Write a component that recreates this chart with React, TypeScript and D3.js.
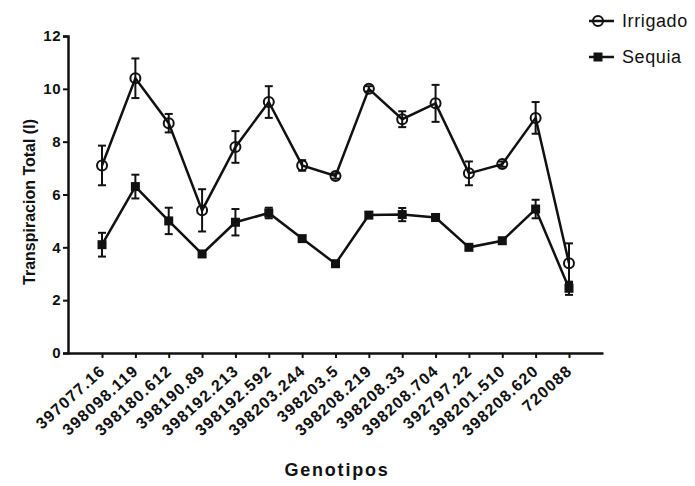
import React, { useEffect, useRef } from 'react';
import * as d3 from 'd3';

const genotipos = [
  '397077.16', '398098.119', '398180.612', '398190.89', '398192.213',
  '398192.592', '398203.244', '398203.5', '398208.219', '398208.33',
  '398208.704', '392797.22', '398201.510', '398208.620', '720088',
];

const irrigado = [7.1, 10.4, 8.7, 5.4, 7.8, 9.5, 7.1, 6.7, 10.0, 8.85, 9.45, 6.8, 7.15, 8.9, 3.4];
const irrigadoErr = [0.75, 0.75, 0.35, 0.8, 0.6, 0.6, 0.2, 0.1, 0.1, 0.3, 0.7, 0.45, 0.1, 0.6, 0.75];

const sequia = [4.1, 6.3, 5.0, 3.75, 4.95, 5.3, 4.33, 3.38, 5.22, 5.24, 5.13, 4.0, 4.25, 5.45, 2.45];
const sequiaErr = [0.45, 0.45, 0.5, 0.1, 0.5, 0.2, 0.1, 0.1, 0.1, 0.25, 0.1, 0.1, 0.1, 0.35, 0.25];

const yTicks = [0, 2, 4, 6, 8, 10, 12];

const App: React.FC = () => {
  const svgRef = useRef<SVGSVGElement>(null);

  useEffect(() => {
    if (!svgRef.current) return;
    const width = 695;
    const height = 486;
    const left = 68;
    const right = 603;
    const top = 36;
    const bottom = 353;
    const ink = '#111';

    const svg = d3.select(svgRef.current);
    svg.selectAll('*').remove();
    svg.attr('width', width).attr('height', height)
      .style('font-family', 'Arial, "Liberation Sans", sans-serif');

    svg.append('rect').attr('width', width).attr('height', height).attr('fill', '#fff');

    const x = d3.scalePoint<string>().domain(genotipos).range([left, right]).padding(1.02);
    const y = d3.scaleLinear().domain([0, 12]).range([bottom, top]);

    // axes
    const yAxis = svg.append('g').attr('transform', `translate(${left},0)`)
      .call(d3.axisLeft(y).tickValues(yTicks).tickSize(5).tickPadding(2));
    yAxis.select('.domain').attr('stroke', ink).attr('stroke-width', 2.5);
    yAxis.selectAll('.tick line').attr('stroke', ink).attr('stroke-width', 2);
    yAxis.selectAll('.tick text')
      .attr('fill', ink).style('font-size', '15px').style('font-weight', 'bold')
      .style('letter-spacing', '0.5px');

    const xAxis = svg.append('g').attr('transform', `translate(0,${bottom})`)
      .call(d3.axisBottom(x).tickSize(5).tickSizeOuter(0));
    xAxis.select('.domain').attr('stroke', ink).attr('stroke-width', 2.5);
    xAxis.selectAll('.tick line').attr('stroke', ink).attr('stroke-width', 2);
    xAxis.selectAll('.tick text')
      .attr('fill', ink)
      .style('font-size', '16px').style('font-weight', 'bold')
      .style('letter-spacing', '1.2px')
      .attr('text-anchor', 'end')
      .attr('y', 0).attr('dy', '0.35em')
      .attr('transform', 'translate(0,15) rotate(-42)');

    // titles
    svg.append('text')
      .attr('transform', `translate(35,202) rotate(-90)`)
      .attr('text-anchor', 'middle')
      .style('font-size', '16px').style('font-weight', 'bold').attr('fill', ink)
      .text('Transpiracion Total (l)');
    svg.append('text')
      .attr('x', 337).attr('y', 476)
      .attr('text-anchor', 'middle')
      .style('font-size', '18px').style('font-weight', 'bold').attr('fill', ink)
      .style('letter-spacing', '1.8px')
      .text('Genotipos');

    const series = [
      { name: 'Irrigado', values: irrigado, err: irrigadoErr, shape: 'circle' },
      { name: 'Sequia', values: sequia, err: sequiaErr, shape: 'square' },
    ];

    const line = d3.line<number>()
      .x((_, i) => x(genotipos[i]) as number)
      .y(d => y(d));

    series.forEach(s => {
      const g = svg.append('g');
      g.append('path')
        .attr('d', line(s.values))
        .attr('fill', 'none').attr('stroke', ink).attr('stroke-width', 2.5);

      const eb = g.append('g').selectAll('g').data(s.values).join('g');
      eb.append('line')
        .attr('x1', (_, i) => x(genotipos[i]) as number)
        .attr('x2', (_, i) => x(genotipos[i]) as number)
        .attr('y1', (d, i) => y(d - s.err[i]))
        .attr('y2', (d, i) => y(d + s.err[i]))
        .attr('stroke', ink).attr('stroke-width', 2);
      [1, -1].forEach(sign => {
        eb.append('line')
          .attr('x1', (_, i) => (x(genotipos[i]) as number) - 4)
          .attr('x2', (_, i) => (x(genotipos[i]) as number) + 4)
          .attr('y1', (d, i) => y(d + sign * s.err[i]))
          .attr('y2', (d, i) => y(d + sign * s.err[i]))
          .attr('stroke', ink).attr('stroke-width', 2);
      });

      if (s.shape === 'circle') {
        g.append('g').selectAll('circle').data(s.values).join('circle')
          .attr('cx', (_, i) => x(genotipos[i]) as number)
          .attr('cy', d => y(d))
          .attr('r', 5)
          .attr('fill', 'none').attr('stroke', ink).attr('stroke-width', 2);
      } else {
        g.append('g').selectAll('rect').data(s.values).join('rect')
          .attr('x', (_, i) => (x(genotipos[i]) as number) - 4.5)
          .attr('y', d => y(d) - 4.5)
          .attr('width', 9).attr('height', 9)
          .attr('fill', ink);
      }
    });

    // legend
    const legend = svg.append('g').attr('transform', 'translate(589,0)');
    series.forEach((s, i) => {
      const ly = 21 + i * 36;
      const lg = legend.append('g').attr('transform', `translate(0,${ly})`);
      lg.append('line').attr('x1', 0).attr('x2', 25).attr('y1', 0).attr('y2', 0)
        .attr('stroke', ink).attr('stroke-width', 2.5);
      if (s.shape === 'circle') {
        lg.append('circle').attr('cx', 9).attr('cy', 0).attr('r', 5)
          .attr('fill', 'none').attr('stroke', ink).attr('stroke-width', 2);
      } else {
        lg.append('rect').attr('x', 4.5).attr('y', -4.5).attr('width', 9).attr('height', 9)
          .attr('fill', ink);
      }
      lg.append('text').attr('x', 33).attr('y', 0).attr('dy', '0.36em')
        .style('font-size', '18px').attr('fill', ink)
        .style('letter-spacing', '0.6px')
        .text(s.name);
    });
  }, []);

  return <svg ref={svgRef} style={{ display: 'block', position: 'absolute', left: 0, top: 0 }} />;
};

export default App;
